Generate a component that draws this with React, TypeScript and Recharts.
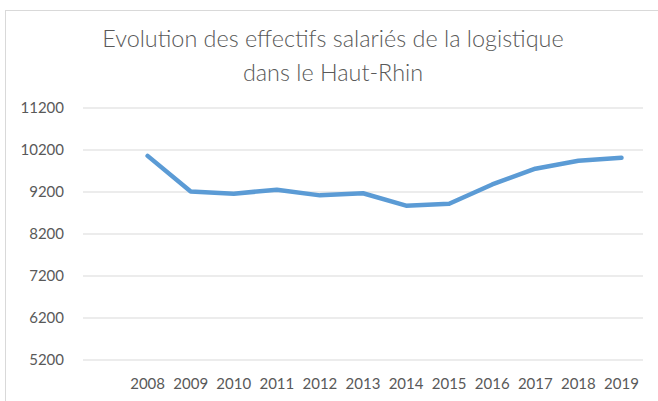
import { LineChart, Line, XAxis, YAxis, CartesianGrid } from 'recharts'

// first slot is an empty category (blank row in the source sheet)
const years = ['', '2008', '2009', '2010', '2011', '2012', '2013', '2014', '2015', '2016', '2017', '2018', '2019']
const effectifs: (number | null)[] = [null, 10060, 9210, 9160, 9255, 9120, 9170, 8875, 8920, 9380, 9755, 9945, 10015]
const yTicks = [5200, 6200, 7200, 8200, 9200, 10200, 11200]

const titleLines = ['Evolution des effectifs salariés de la logistique', 'dans le Haut-Rhin']

const data = years.map((year, i) => ({ year, value: effectifs[i] }))

const textColor = '#595959'
const font = 'Lato, "Open Sans", sans-serif'

export default function App() {
  return (
    <div style={{ position: 'absolute', left: 0, top: 0, width: 658, height: 401, background: '#fff', overflow: 'hidden' }}>
      <div
        style={{
          position: 'absolute',
          left: 5,
          top: 10,
          width: 700,
          height: 450,
          borderTop: '1px solid #d9d9d9',
          borderLeft: '1px solid #d9d9d9',
        }}
      />
      {titleLines.map((t, i) => (
        <div
          key={i}
          style={{
            position: 'absolute',
            left: 0,
            width: 666,
            top: 25 + i * 34,
            textAlign: 'center',
            fontFamily: font,
            fontWeight: 300,
            fontSize: 23.4,
            lineHeight: '27px',
            color: textColor,
            whiteSpace: 'nowrap',
          }}
        >
          {t}
        </div>
      ))}
      <div style={{ position: 'absolute', left: 0, top: 0 }}>
        <LineChart width={658} height={401} data={data} margin={{ top: 108, right: 15, bottom: 11, left: 0 }}>
          <CartesianGrid vertical={false} stroke="#d9d9d9" strokeWidth={1} />
          <XAxis
            dataKey="year"
            scale="band"
            axisLine={false}
            tickLine={false}
            tickSize={0}
            tickMargin={18}
            height={30}
            interval={0}
            tick={{ fontSize: 15, fill: textColor, fontFamily: font }}
          />
          <YAxis
            domain={[5200, 11200]}
            ticks={yTicks}
            width={83}
            axisLine={false}
            tickLine={false}
            tickSize={0}
            tickMargin={19}
            tick={{ fontSize: 15, fill: textColor, fontFamily: font }}
          />
          <Line
            dataKey="value"
            stroke="#5b9bd5"
            strokeWidth={4.5}
            strokeLinecap="round"
            strokeLinejoin="round"
            dot={false}
            activeDot={false}
            isAnimationActive={false}
          />
        </LineChart>
      </div>
    </div>
  )
}
